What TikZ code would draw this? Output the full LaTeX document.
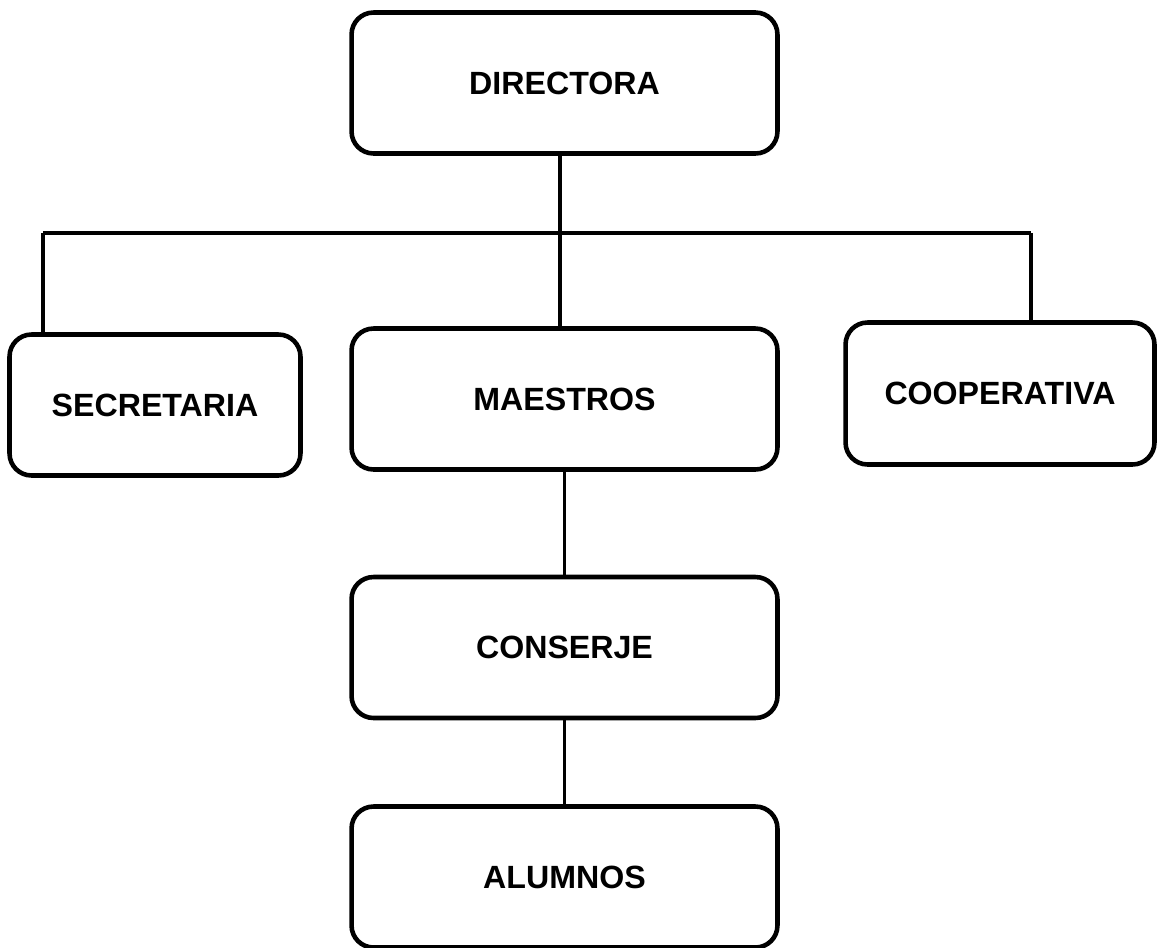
\documentclass[tikz,border=0pt]{standalone}
\usepackage{fontspec}
\setmainfont{Liberation Sans}
\begin{document}
\begin{tikzpicture}[x=0.02cm,y=-0.02cm]

\tikzstyle{cargo} = [draw=black, line width=2.6pt, rounded corners=0.44cm,
  minimum width=8.52cm, minimum height=2.82cm, font=\fontsize{18.3}{21}\selectfont\bfseries,
  inner sep=0pt]
\tikzstyle{enlace} = [draw=black, line width=1.9pt]

\useasboundingbox (0,0) rectangle (1158,947);

\node[cargo] (dir) at (564.5,83) {DIRECTORA};
\node[cargo] (mae) at (564.5,399) {MAESTROS};
\node[cargo, minimum width=5.82cm, minimum height=2.82cm] (sec) at (155,405) {SECRETARIA};
\node[cargo, minimum width=6.18cm, minimum height=2.84cm] (coop) at (1000,393.5) {COOPERATIVA};
\node[cargo] (con) at (564.5,647.5) {CONSERJE};
\node[cargo] (alu) at (564.5,877) {ALUMNOS};

\coordinate (barl) at (43,233);
\coordinate (barr) at (1031,233);

\draw[enlace] (barl) -- (barr);
\draw[enlace] (dir.south -| 560,0) -- (mae.north -| 560,0);
\draw[enlace] (barl) -- (sec.north -| barl);
\draw[enlace] (barr) -- (coop.north -| barr);
\draw[enlace] (mae.south) -- (con.north);
\draw[enlace] (con.south) -- (alu.north);

\end{tikzpicture}
\end{document}
